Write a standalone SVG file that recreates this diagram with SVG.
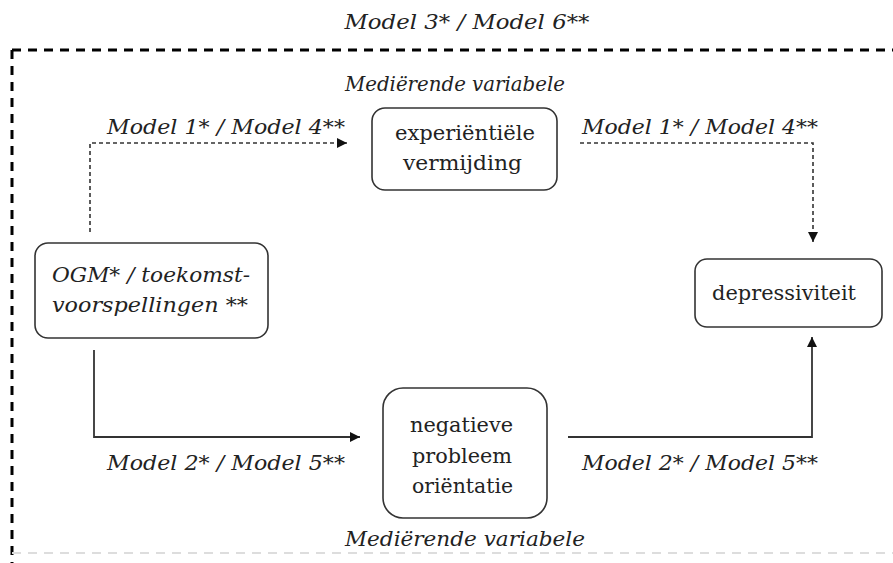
<svg xmlns="http://www.w3.org/2000/svg" width="893" height="563" viewBox="0 0 893 563">
<style>
.lbl{font-family:"DejaVu Serif","Liberation Serif",serif;font-style:italic;font-size:20px;fill:#222}
.txt{font-family:"DejaVu Serif","Liberation Serif",serif;font-size:21px;fill:#222}
.box{fill:#fff;stroke:#333;stroke-width:1.6}
.frame{fill:none;stroke:#000;stroke-width:3;stroke-dasharray:9 7}
.dash{fill:none;stroke:#333;stroke-width:1.6;stroke-dasharray:4 3}
.solid{fill:none;stroke:#333;stroke-width:1.8}
</style>
<defs>
<marker id="ah" viewBox="0 0 10 10" refX="10" refY="5" markerWidth="10" markerHeight="10" markerUnits="userSpaceOnUse" orient="auto">
<path d="M0,0 L10,5 L0,10 Z" fill="#111"/>
</marker>
</defs>
<rect width="893" height="563" fill="#fff"/>
<g id="frame">
<path class="frame" d="M12,50 H893"/>
<path class="frame" d="M12,50 V563"/>
<path d="M12,553 H893" fill="none" stroke="#ddd" stroke-width="2" stroke-dasharray="9 7"/>
<text class="lbl" x="467" y="29" text-anchor="middle" textLength="245" lengthAdjust="spacingAndGlyphs">Model 3* / Model  6**</text>
</g>
<g id="connectors">
<path class="dash" d="M90,232 V143 H347" marker-end="url(#ah)"/>
<path class="dash" d="M580,143 H813 V242" marker-end="url(#ah)"/>
<path class="solid" d="M94,350 V437 H360" marker-end="url(#ah)"/>
<path class="solid" d="M568,437 H812 V337" marker-end="url(#ah)"/>
<text class="lbl" x="107" y="134" textLength="238" lengthAdjust="spacingAndGlyphs">Model 1* / Model 4**</text>
<text class="lbl" x="582" y="134" textLength="236" lengthAdjust="spacingAndGlyphs">Model 1* / Model 4**</text>
<text class="lbl" x="107" y="470" textLength="238" lengthAdjust="spacingAndGlyphs">Model 2* / Model 5**</text>
<text class="lbl" x="582" y="470" textLength="236" lengthAdjust="spacingAndGlyphs">Model 2* / Model 5**</text>
</g>
<g id="node-experientiele">
<rect class="box" x="372" y="108" width="185" height="82" rx="13"/>
<text class="txt" x="395" y="140" textLength="140" lengthAdjust="spacingAndGlyphs">experiëntiële</text>
<text class="txt" x="403" y="170" textLength="119" lengthAdjust="spacingAndGlyphs">vermijding</text>
<text class="lbl" x="455" y="91" text-anchor="middle" textLength="220" lengthAdjust="spacingAndGlyphs">Mediërende variabele</text>
</g>
<g id="node-ogm">
<rect class="box" x="35" y="243" width="233" height="95" rx="13"/>
<text class="lbl" x="52" y="282" textLength="198" lengthAdjust="spacingAndGlyphs">OGM* / toekomst-</text>
<text class="lbl" x="52" y="312" textLength="196" lengthAdjust="spacingAndGlyphs">voorspellingen **</text>
</g>
<g id="node-depressiviteit">
<rect class="box" x="695" y="259" width="187" height="68" rx="12"/>
<text class="txt" x="712" y="300" textLength="144" lengthAdjust="spacingAndGlyphs">depressiviteit</text>
</g>
<g id="node-negatieve">
<rect class="box" x="383" y="388" width="164" height="130" rx="20"/>
<text class="txt" x="410" y="432" textLength="103" lengthAdjust="spacingAndGlyphs">negatieve</text>
<text class="txt" x="412" y="463" textLength="100" lengthAdjust="spacingAndGlyphs">probleem</text>
<text class="txt" x="412" y="493" textLength="101" lengthAdjust="spacingAndGlyphs">oriëntatie</text>
<text class="lbl" x="465" y="546" text-anchor="middle" textLength="240" lengthAdjust="spacingAndGlyphs">Mediërende variabele</text>
</g>
</svg>
